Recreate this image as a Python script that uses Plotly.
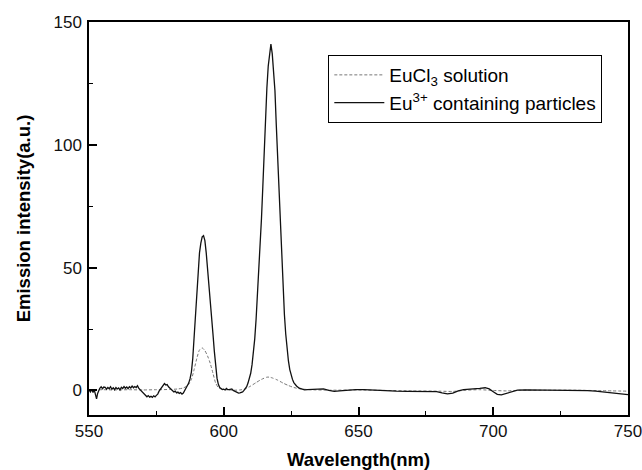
import plotly.graph_objects as go

# --- Eu3+ containing particles (solid) ---
wl_particles = [
    550, 550.5, 551, 551.5, 552, 552.4, 552.8, 553.2, 553.6, 554, 554.5, 555, 555.5, 556, 556.5,
    557, 557.5, 558, 558.5, 559, 559.5, 560, 560.5, 561, 561.5, 562, 562.5, 563, 563.5, 564,
    564.5, 565, 565.5, 566, 566.5, 567, 567.5, 568, 568.5, 569, 569.5, 570, 570.5, 571, 571.5,
    572, 572.5, 573, 573.5, 574, 574.5, 575, 575.5, 576, 576.5, 577, 577.5, 578, 578.5, 579,
    579.5, 580, 580.5, 581, 581.5, 582, 582.5, 583, 583.5, 584, 584.5, 585, 585.5, 586, 586.5,
    587, 587.5, 588, 588.5, 589, 589.5, 590, 590.5, 591, 591.5, 592, 592.5, 593, 593.5, 594,
    594.5, 595, 595.5, 596, 596.5, 597, 597.5, 598, 598.5, 599, 599.5, 600, 600.5, 601, 601.5,
    602, 602.5, 603, 603.5, 604, 604.5, 605, 605.5, 606, 606.5, 607, 607.5, 608, 608.5, 609,
    609.5, 610, 610.5, 611, 611.5, 612, 612.5, 613, 613.5, 614, 614.5, 615, 615.5, 616, 616.5,
    617, 617.5, 618, 618.5, 619, 619.5, 620, 620.5, 621, 621.5, 622, 622.5, 623, 623.5, 624,
    624.5, 625, 625.5, 626, 627, 628, 629, 630, 631, 633, 635, 637, 639, 641, 643, 645, 647,
    649, 652, 655, 658, 661, 664, 668, 672, 676, 679, 681, 683, 685, 687, 689, 691, 693, 695,
    697, 698.5, 700, 701.5, 703, 705, 707, 709, 712, 716, 720, 725, 730, 735, 738, 741, 744,
    747, 750,
]
int_particles = [
    0.2, -0.6, 0.4, -0.8, 0.0, -2.0, -3.4, -1.2, 0.3, 0.9, 1.5, 0.7, 1.4, 1.3, 0.5,
    1.2, 0.7, 1.5, 0.5, 1.1, 0.3, 1.2, 0.6, 1.0, 0.2, 1.3, 0.8, 1.6, 0.9, 1.4,
    0.7, 1.5, 1.0, 1.8, 1.1, 1.6, 1.2, 1.9, 0.8, 0.3, -0.4, -1.0, -1.6, -2.1, -2.6,
    -2.1, -2.7, -2.4, -2.8, -2.2, -2.6, -2.0, -1.5, -0.3, 0.5, 1.6, 2.5, 2.8, 2.2, 2.4,
    1.5, 1.0, 0.5, 0.0, -0.6, -0.3, -1.0, -0.7, -1.2, -0.9, -1.5, -1.1, -0.2, 1.0, 1.8,
    3.0, 4.8, 7.5, 13, 21, 31, 41, 49, 56, 60, 62.5, 63, 61, 56, 50,
    43.5, 37, 30, 23, 16, 9.5, 5, 2.5, 1.2, 0.8, 0.4, 0.5, 0.2, 0.8, 0.3,
    0.3, 0.6, 0.6, 0.0, -0.3, -0.6, -0.8, -1.1, -1.0, -0.8, -0.6, 0.0, 0.6, 1.5, 3,
    4.8, 7, 10.5, 15, 21, 29, 38.5, 49, 59.5, 70, 83, 99, 112, 123, 132,
    138, 141, 137, 130, 122, 108, 94, 82, 70, 55, 41, 31, 23, 17, 12,
    8.5, 6, 4.5, 3.2, 1.8, 0.9, 0.5, 0.2, 0.3, 0.5, 0.7, 0.6, 0.0, -0.4, -0.2, 0.0, 0.2,
    0.3, 0.3, 0.1, 0.0, -0.2, -0.3, -0.4, -0.4, -0.4, -0.5, -1.0, -1.4, -1.1, -0.2, 0.3, 0.4, 0.5, 0.8,
    1.1, 0.6, -0.5, -1.6, -1.8, -1.2, -0.4, 0.1, 0.2, 0.2, 0.1, 0.1, 0.0, -0.1, -0.3, -0.6, -1.0,
    -1.4, -1.7,
]

# --- EuCl3 solution (dashed) ---
wl_solution = [
    550, 555, 560, 565, 570, 575, 580, 583, 585, 586, 587, 588, 589, 590, 591, 592, 593, 594,
    595, 596, 597, 598, 599, 600, 602, 604, 606, 608, 610, 612, 614, 616, 617, 618, 620, 622,
    624, 626, 628, 632, 640, 650, 660, 670, 680, 685, 690, 695, 700, 705, 710, 720, 730, 740, 750,
]
int_solution = [
    0.2, 0.3, 0.2, 0.3, 0.2, 0.3, 0.4, 0.6, 1.0, 1.6, 2.5, 4.5, 8.5, 13, 16.5, 17.3, 16.2, 14,
    11, 7, 3, 1.2, 0.6, 0.4, 0.2, 0.1, 0.2, 0.6, 1.8, 3.2, 4.5, 5.4, 5.4, 5.1, 4.2, 3.0,
    2.0, 1.2, 0.7, 0.3, 0.1, 0.2, 0.0, -0.2, -0.3, -0.4, 0.1, 0.3, 0.0, -0.2, 0.1, 0.1, 0.1, -0.1, -0.3,
]

x_ticks = [550, 600, 650, 700, 750]
y_ticks = [0, 50, 100, 150]

FONT = "Liberation Sans, Arial, Helvetica, sans-serif"

fig = go.Figure()
fig.add_trace(go.Scatter(
    x=wl_solution, y=int_solution, mode="lines", name="EuCl<sub>3</sub> solution",
    line=dict(color="#777777", width=1, dash="3px,2px", shape="spline", smoothing=0.6),
))
fig.add_trace(go.Scatter(
    x=wl_particles, y=int_particles, mode="lines", name="Eu<sup>3+</sup> containing particles",
    line=dict(color="#111111", width=1.3),
))

axis_common = dict(
    showline=True, linecolor="black", linewidth=1.5, mirror=True,
    showgrid=False, zeroline=False, automargin=False,
    ticks="inside", ticklen=8, tickwidth=1.5, tickcolor="black",
    ticklabeloverflow="allow",
    tickfont=dict(family=FONT, size=17, color="#111111"),
)

fig.update_xaxes(
    range=[550, 750], tickvals=x_ticks, ticklabelstandoff=0,
    minor=dict(ticks="inside", ticklen=4, tickwidth=1.2, tickcolor="black", dtick=25, tick0=550),
    title=dict(text="<b>Wavelength(nm)</b>", font=dict(family=FONT, size=18.5, color="black"), standoff=14),
    **axis_common,
)
fig.update_yaxes(
    range=[-10, 150], tickvals=y_ticks, ticklabelstandoff=2,
    minor=dict(ticks="inside", ticklen=4, tickwidth=1.2, tickcolor="black", dtick=25, tick0=0),
    title=dict(text="<b>Emission intensity(a.u.)</b>", font=dict(family=FONT, size=18.5, color="black"), standoff=18),
    **axis_common,
)

fig.update_layout(
    width=642, height=470,
    margin=dict(l=89, r=14, t=22, b=55),
    plot_bgcolor="white", paper_bgcolor="white",
    showlegend=True,
    legend=dict(
        x=0.444, y=0.916, xanchor="left", yanchor="top",
        bordercolor="black", borderwidth=1, bgcolor="white",
        font=dict(family=FONT, size=19, color="black"),
        itemwidth=50, tracegroupgap=0,
    ),
)

fig.write_html("out.html")
